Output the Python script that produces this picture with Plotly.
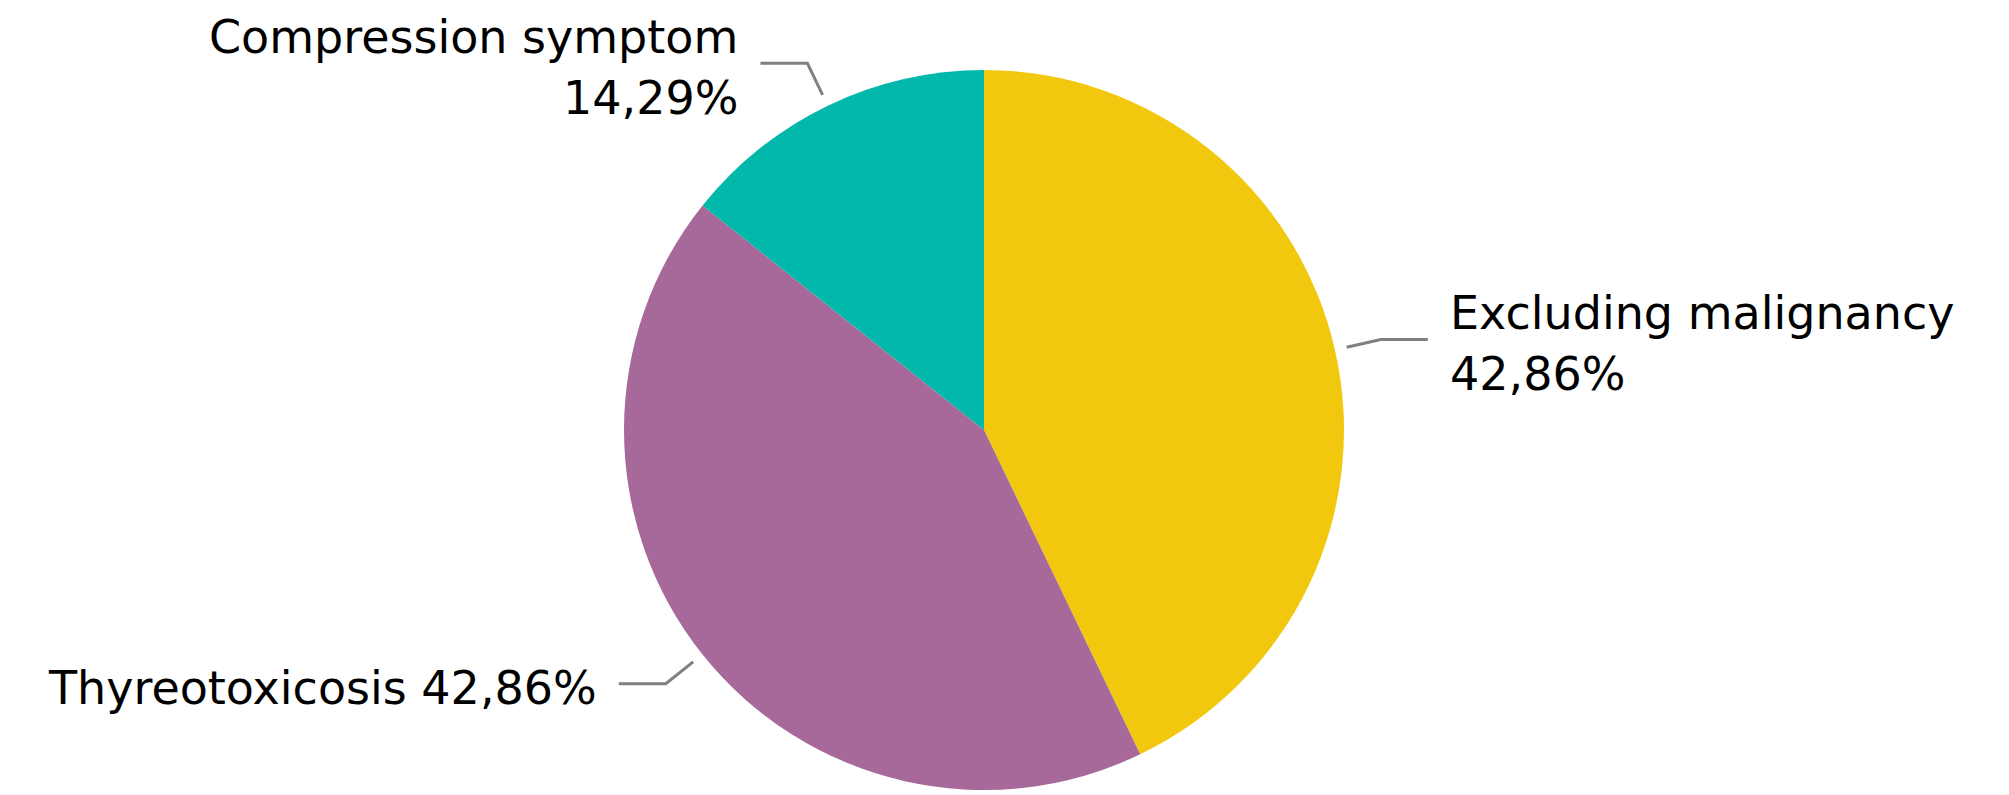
import math
import plotly.graph_objects as go

# ---- data ----
categories = ["Excluding malignancy", "Thyreotoxicosis", "Compression symptom"]
counts = [3, 3, 1]
colors = ["#F2C80F", "#A66999", "#01B8AA"]
label_break = [True, False, True]  # put percentage on its own line

# ---- layout constants ----
OFF = 8  # default page body margin
W, H = 2009, 795
cx, cy, R = 984 - OFF, 430 - OFF, 360  # pie centre & radius in px (figure coords)
FONT = "DejaVu Sans, DIN, sans-serif"
FS = 46
LEAD_START, LEAD_RADIAL, LEAD_HORIZ, TEXT_GAP = 12, 35, 47, 20
LINE_PITCH, TEXT_DY = 61, 4
LINE_COL = "#808080"

fig = go.Figure(go.Pie(
    labels=categories,
    values=counts,
    sort=False,
    direction="clockwise",
    rotation=0,
    marker=dict(colors=colors, line=dict(width=0)),
    textinfo="none",
    hoverinfo="label+percent",
    showlegend=False,
    domain=dict(x=[(cx - R) / W, (cx + R) / W],
                y=[(H - cy - R) / H, (H - cy + R) / H]),
))

def px2paper(x, y):
    return x / W, 1 - y / H

total = sum(counts)
cum = 0
shapes, annotations = [], []
for name, v, brk in zip(categories, counts, label_break):
    pct = 100 * v / total
    mid = (cum + v / 2) / total * 2 * math.pi
    cum += v
    s, c = math.sin(mid), math.cos(mid)
    r0, r1 = R + LEAD_START, R + LEAD_START + LEAD_RADIAL
    p0 = (cx + r0 * s, cy - r0 * c)
    p1 = (cx + r1 * s, cy - r1 * c)
    side = 1 if s >= 0 else -1
    p2 = (p1[0] + side * LEAD_HORIZ, p1[1])
    path_pts = [px2paper(*p) for p in (p0, p1, p2)]
    path = "M {} {} L {} {} L {} {}".format(*[q for pt in path_pts for q in pt])
    shapes.append(dict(type="path", xref="paper", yref="paper", path=path,
                       line=dict(color=LINE_COL, width=3)))
    pct_txt = f"{pct:.2f}".replace(".", ",") + "%"
    if brk:
        lines = [name, pct_txt]
        offsets = [-LINE_PITCH / 2, LINE_PITCH / 2]
    else:
        lines = [f"{name} {pct_txt}"]
        offsets = [0]
    for ln, dy in zip(lines, offsets):
        tx, ty = px2paper(p2[0] + side * TEXT_GAP, p2[1] + TEXT_DY + dy)
        annotations.append(dict(
            x=tx, y=ty, xref="paper", yref="paper", text=ln, showarrow=False,
            xanchor="left" if side > 0 else "right", yanchor="middle",
            align="left" if side > 0 else "right",
            font=dict(family=FONT, size=FS, color="#000000"),
        ))

fig.update_layout(
    width=W, height=H,
    margin=dict(l=0, r=0, t=0, b=0),
    paper_bgcolor="white", plot_bgcolor="white",
    shapes=shapes, annotations=annotations,
)
fig.write_html("out.html")
